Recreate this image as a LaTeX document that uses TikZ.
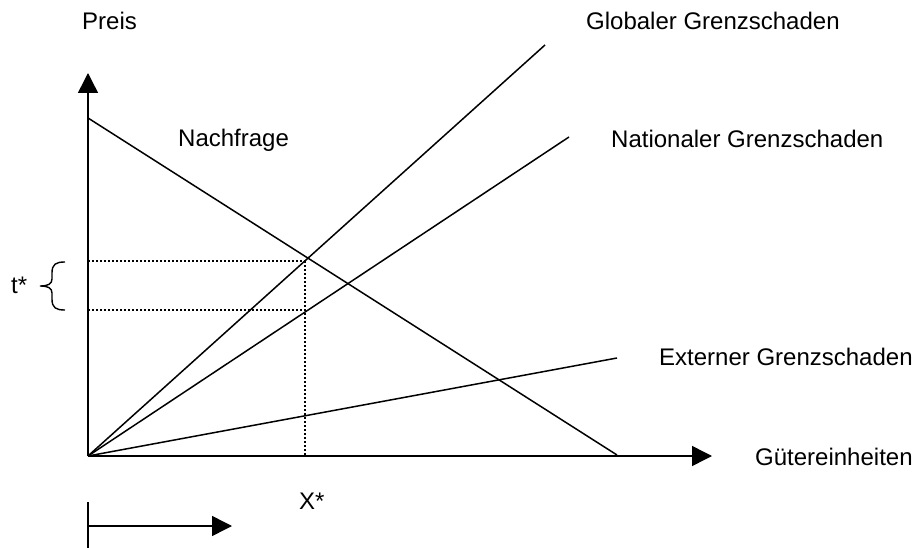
\documentclass[tikz,border=0pt]{standalone}
\usepackage{fontspec}
\setmainfont{Liberation Sans}
\usetikzlibrary{arrows.meta}
\begin{document}
\begin{tikzpicture}[x=1pt,y=-1pt,
  lbl/.style={inner sep=0pt,anchor=base west,font=\fontsize{24}{28}\selectfont},
  curve/.style={line width=1.5pt},
  axis/.style={line width=1.5pt,-{Triangle[length=20pt,width=20pt]}},
  guide/.style={line width=1.2pt,dash pattern=on 1.6pt off 2.4pt}]
\useasboundingbox (0,0) rectangle (916,548);
% key points
\coordinate (O) at (88,456);
\coordinate (Ytip) at (88,73);
\coordinate (Xtip) at (712,456);
\coordinate (D0) at (88,118);
\coordinate (D1) at (617,455);
\coordinate (G1) at (545,45);
\coordinate (N1) at (569,137);
\coordinate (E1) at (617,358);
\coordinate (Xs) at (305,456);
\coordinate (Tu) at (305,261);
\coordinate (Tl) at (305,310);
\coordinate (Au) at (88,261);
\coordinate (Al) at (88,310);
% axes
\draw[axis] (O) -- (Ytip);
\draw[axis] (O) -- (Xtip);
% curves
\draw[curve] (D0) -- (D1);
\draw[curve] (O) -- (G1);
\draw[curve] (O) -- (N1);
\draw[curve] (O) -- (E1);
% guides
\draw[guide] (Au) -- (Tu);
\draw[guide] (Al) -- (Tl);
\draw[guide] (Tu) -- (Xs);
% brace
\draw[line width=1.4pt] (65,262) .. controls (56,262) and (52,264) .. (52,273) -- (52,279) .. controls (52,284) and (48,286) .. (40,286) .. controls (48,286) and (52,288) .. (52,293) -- (52,299) .. controls (52,308) and (56,310) .. (65,310);
% bottom arrow
\coordinate (B0) at (88,502);
\coordinate (B1) at (88,548);
\coordinate (Bs) at (88,526);
\coordinate (Be) at (232,526);
\draw[line width=1.5pt] (B0) -- (B1);
\draw[axis] (Bs) -- (Be);
% labels
\node[lbl] (preis) at (82,30) {Preis};
\node[lbl] (nachfrage) at (178,147) {Nachfrage};
\node[lbl] (global) at (586,30) {Globaler Grenzschaden};
\node[lbl] (national) at (611,148) {Nationaler Grenzschaden};
\node[lbl] (extern) at (659,365) {Externer Grenzschaden};
\node[lbl] (gueter) at (755,465) {Gütereinheiten};
\node[lbl] (tstar) at (11,294) {t*};
\node[lbl] (xstar) at (299,509) {X*};
\end{tikzpicture}
\end{document}
